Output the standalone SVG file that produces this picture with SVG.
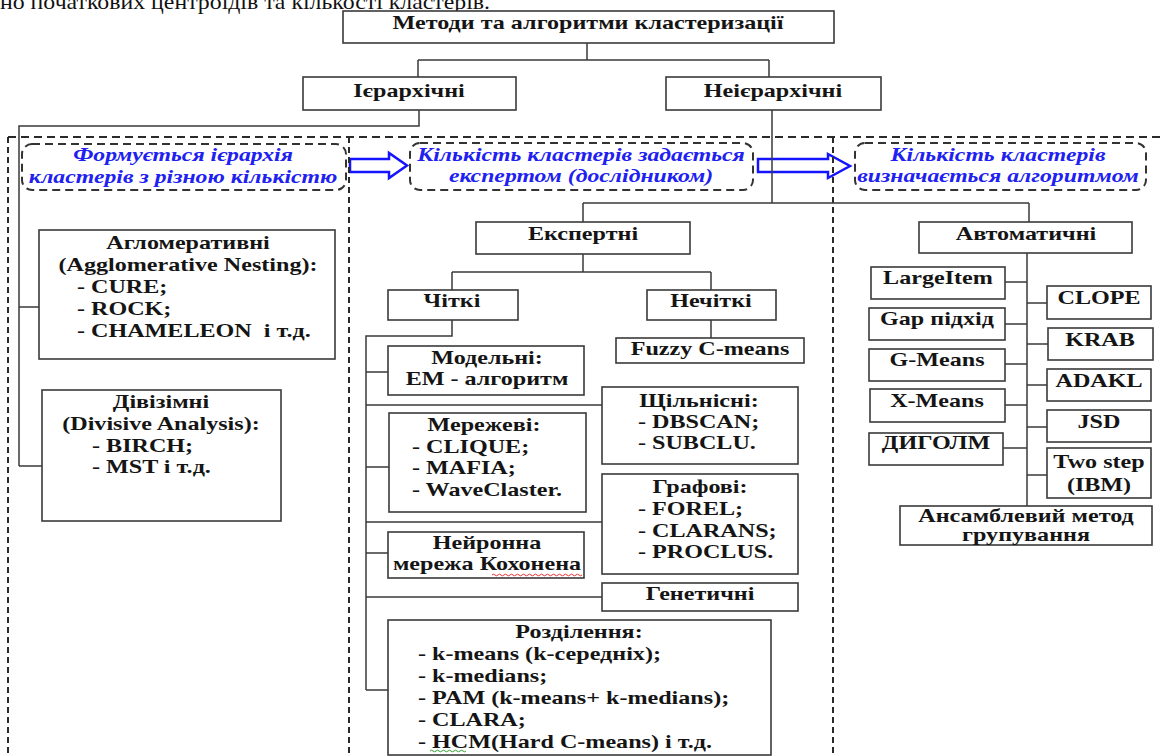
<svg xmlns="http://www.w3.org/2000/svg" width="1162" height="756" viewBox="0 0 1162 756">
<style>
.bx{fill:#fff;stroke:#3a3a3a;stroke-width:1.6}
.ln{fill:none;stroke:#3a3a3a;stroke-width:1.5}
.ds{fill:none;stroke:#2a2a2a;stroke-width:2;stroke-dasharray:8 5}
.dv{fill:none;stroke:#2a2a2a;stroke-width:2;stroke-dasharray:6 4}
.lb{fill:none;stroke:#333;stroke-width:2;stroke-dasharray:8 5}
.ar{fill:#fff;stroke:#1414ff;stroke-width:2.5}
text{font-family:"Liberation Serif","Times New Roman",serif}
.t{font-size:18px;font-weight:bold;fill:#151515;text-anchor:middle}
.l{font-size:18px;font-weight:bold;fill:#151515;text-anchor:start}
.b{font-size:18px;font-weight:bold;font-style:italic;fill:#2020f0;text-anchor:middle}
.top{font-size:22px;fill:#111}
.wr{fill:none;stroke:#e03030;stroke-width:1}
.wg{fill:none;stroke:#30a030;stroke-width:1}
</style>

<text class="top" x="0" y="9" textLength="490" lengthAdjust="spacingAndGlyphs">но початкових центроїдів та кількості кластерів.</text>

<g id="arrows">
<polygon class="ar" points="350,159 389,159 389,153 407,165.5 389,178 389,172 350,172"/>
<polygon class="ar" points="758,159 828,159 828,154 850,166 828,178 828,172 758,172"/>
</g>

<g id="regions">
<path class="ds" d="M8 137 H1162"/>
<path class="dv" d="M8 137 V756 M349 137 V756 M833 137 V756"/>
</g>

<g id="connectors">
<path class="ln" d="M587 43 V60 M418 60 H769 M418 60 V77 M769 60 V77"/>
<path class="ln" d="M419 110 V126 H19 V466 M19 307 H39 M19 466 H42"/>
<path class="ln" d="M772 110 V203 M583 203 H1029 M583 203 V222 M1029 203 V222"/>
<path class="ln" d="M583 254 V272 M452 272 H711 M452 272 V290 M711 272 V290 M711 320 V338"/>
<path class="ln" d="M452 320 V336 H366 V690 M366 372 H388 M366 405 H602 M366 467 H389 M366 522 H602 M366 553 H388 M366 597 H602 M366 690 H388"/>
<path class="ln" d="M1027 253 V506 M1005 282 H1027 M1005 324 H1027 M1005 364 H1027 M1005 405 H1027 M1003 448 H1027 M1027 303 H1047 M1027 344 H1048 M1027 385 H1047 M1027 427 H1047 M1027 475 H1047"/>
</g>

<g id="n-root"><rect class="bx" x="343" y="11" width="491" height="32"/>
<text class="t" transform="translate(588 28.5) scale(1.34 1)">Методи та алгоритми кластеризації</text></g>
<g id="n-hier"><rect class="bx" x="303" y="77" width="213" height="33"/>
<text class="t" transform="translate(409 97) scale(1.34 1)">Ієрархічні</text></g>
<g id="n-nonhier"><rect class="bx" x="666" y="77" width="215" height="33"/>
<text class="t" transform="translate(773 97) scale(1.34 1)">Неієрархічні</text></g>

<g id="lbl-1"><rect class="lb" x="22" y="144" width="324" height="46" rx="10"/>
<text class="b" transform="translate(183 161) scale(1.32 1)"><tspan x="0">Формується ієрархія</tspan><tspan x="0" dy="22">кластерів з різною кількістю</tspan></text></g>
<g id="lbl-2"><rect class="lb" x="410" y="143" width="343" height="47" rx="10"/>
<text class="b" transform="translate(581 161) scale(1.32 1)"><tspan x="0">Кількість кластерів задається</tspan><tspan x="0" dy="21.5">експертом (дослідником)</tspan></text></g>
<g id="lbl-3"><rect class="lb" x="855" y="143" width="291" height="47" rx="10"/>
<text class="b" transform="translate(998 161) scale(1.32 1)"><tspan x="0">Кількість кластерів</tspan><tspan x="0" dy="21.5">визначається алгоритмом</tspan></text></g>

<g id="n-aggl"><rect class="bx" x="39" y="230" width="296" height="129"/>
<text class="t" transform="translate(188 248.5) scale(1.34 1)"><tspan x="0">Агломеративні</tspan><tspan x="0" dy="22.5">(Agglomerative Nesting):</tspan></text>
<text class="l" transform="translate(77 292.7) scale(1.34 1)"><tspan x="0">- CURE;</tspan><tspan x="0" dy="22">- ROCK;</tspan><tspan x="0" dy="22">- CHAMELEON&#160; і т.д.</tspan></text></g>

<g id="n-div"><rect class="bx" x="42" y="390" width="239" height="131"/>
<text class="t" transform="translate(161 408.3) scale(1.34 1)"><tspan x="0">Дівізімні</tspan><tspan x="0" dy="22">(Divisive Analysis):</tspan></text>
<text class="l" transform="translate(92 452) scale(1.34 1)"><tspan x="0">- BIRCH;</tspan><tspan x="0" dy="21">- MST і т.д.</tspan></text></g>

<g id="n-expert"><rect class="bx" x="476" y="222" width="214" height="32"/>
<text class="t" transform="translate(583 239.5) scale(1.34 1)">Експертні</text></g>
<g id="n-crisp"><rect class="bx" x="388" y="290" width="130" height="30"/>
<text class="t" transform="translate(452 307) scale(1.34 1)">Чіткі</text></g>
<g id="n-fuzzy"><rect class="bx" x="647" y="290" width="129" height="30"/>
<text class="t" transform="translate(711 307) scale(1.34 1)">Нечіткі</text></g>
<g id="n-fcm"><rect class="bx" x="616" y="338" width="188" height="25"/>
<text class="t" transform="translate(710 355) scale(1.34 1)">Fuzzy C-means</text></g>

<g id="n-model"><rect class="bx" x="388" y="346" width="196" height="49"/>
<text class="t" transform="translate(487 364) scale(1.34 1)"><tspan x="0">Модельні:</tspan><tspan x="0" dy="21">ЕМ - алгоритм</tspan></text></g>
<g id="n-density"><rect class="bx" x="602" y="387" width="196" height="77"/>
<text class="t" transform="translate(699 406.7) scale(1.34 1)">Щільнісні:</text>
<text class="l" transform="translate(638 428) scale(1.34 1)"><tspan x="0">- DBSCAN;</tspan><tspan x="0" dy="21">- SUBCLU.</tspan></text></g>
<g id="n-grid"><rect class="bx" x="389" y="413" width="197" height="99"/>
<text class="t" transform="translate(484 431) scale(1.34 1)">Мережеві:</text>
<text class="l" transform="translate(412 452.7) scale(1.34 1)"><tspan x="0">- CLIQUE;</tspan><tspan x="0" dy="21.5">- MAFIA;</tspan><tspan x="0" dy="21.5">- WaveClaster.</tspan></text></g>
<g id="n-graph"><rect class="bx" x="602" y="474" width="196" height="100"/>
<text class="t" transform="translate(700 493) scale(1.34 1)">Графові:</text>
<text class="l" transform="translate(638 515) scale(1.34 1)"><tspan x="0">- FOREL;</tspan><tspan x="0" dy="22">- CLARANS;</tspan><tspan x="0" dy="21">- PROCLUS.</tspan></text></g>
<g id="n-kohonen"><rect class="bx" x="388" y="532" width="196" height="46"/>
<text class="t" transform="translate(487 549) scale(1.34 1)"><tspan x="0">Нейронна</tspan><tspan x="0" dy="21.5">мережа Кохонена</tspan></text>
<path class="wr" d="M492 575 q1.5 -1.6 3 0 t3 0 t3 0 t3 0 t3 0 t3 0 t3 0 t3 0 t3 0 t3 0 t3 0 t3 0 t3 0 t3 0 t3 0 t3 0 t3 0 t3 0 t3 0 t3 0 t3 0 t3 0 t3 0 t3 0 t3 0 t3 0 t3 0 t3 0 t3 0 t3 0"/></g>
<g id="n-genetic"><rect class="bx" x="602" y="583" width="196" height="28"/>
<text class="t" transform="translate(700 600) scale(1.34 1)">Генетичні</text></g>
<g id="n-part"><rect class="bx" x="388" y="620" width="383" height="135"/>
<text class="t" transform="translate(579 638) scale(1.34 1)">Розділення:</text>
<text class="l" transform="translate(418 660) scale(1.34 1)"><tspan x="0">- k-means (k-середніх);</tspan><tspan x="0" dy="22">- k-medians;</tspan><tspan x="0" dy="22">- PAM (k-means+ k-medians);</tspan><tspan x="0" dy="22">- CLARA;</tspan><tspan x="0" dy="22">- HCM(Hard C-means) і т.д.</tspan></text>
<path class="wg" d="M430 751 q1.5 -1.6 3 0 t3 0 t3 0 t3 0 t3 0 t3 0 t3 0 t3 0 t3 0 t3 0 t3 0 t3 0"/></g>

<g id="n-auto"><rect class="bx" x="919" y="222" width="213" height="31"/>
<text class="t" transform="translate(1026 240) scale(1.34 1)">Автоматичні</text></g>
<g id="n-largeitem"><rect class="bx" x="871" y="267" width="134" height="32"/>
<text class="t" transform="translate(938 284) scale(1.34 1)">LargeItem</text></g>
<g id="n-gap"><rect class="bx" x="869" y="308" width="136" height="32"/>
<text class="t" transform="translate(937 325) scale(1.34 1)">Gap підхід</text></g>
<g id="n-gmeans"><rect class="bx" x="869" y="349" width="136" height="32"/>
<text class="t" transform="translate(937 366) scale(1.34 1)">G-Means</text></g>
<g id="n-xmeans"><rect class="bx" x="870" y="389" width="135" height="33"/>
<text class="t" transform="translate(937 407) scale(1.34 1)">X-Means</text></g>
<g id="n-digolm"><rect class="bx" x="869" y="433" width="134" height="32"/>
<text class="t" transform="translate(936 449) scale(1.34 1)">ДИГОЛМ</text></g>
<g id="n-clope"><rect class="bx" x="1047" y="286" width="104" height="33"/>
<text class="t" transform="translate(1099 304) scale(1.34 1)">CLOPE</text></g>
<g id="n-krab"><rect class="bx" x="1048" y="328" width="105" height="32"/>
<text class="t" transform="translate(1100 346) scale(1.34 1)">KRAB</text></g>
<g id="n-adakl"><rect class="bx" x="1047" y="369" width="104" height="32"/>
<text class="t" transform="translate(1099 387) scale(1.34 1)">ADAKL</text></g>
<g id="n-jsd"><rect class="bx" x="1047" y="410" width="104" height="32"/>
<text class="t" transform="translate(1099 428) scale(1.34 1)">JSD</text></g>
<g id="n-twostep"><rect class="bx" x="1047" y="448" width="104" height="50"/>
<text class="t" transform="translate(1099 468) scale(1.34 1)"><tspan x="0">Two step</tspan><tspan x="0" dy="23">(IBM)</tspan></text></g>
<g id="n-ensemble"><rect class="bx" x="900" y="506" width="252" height="39"/>
<text class="t" transform="translate(1026 522) scale(1.34 1)"><tspan x="0">Ансамблевий метод</tspan><tspan x="0" dy="19">групування</tspan></text></g>
</svg>
